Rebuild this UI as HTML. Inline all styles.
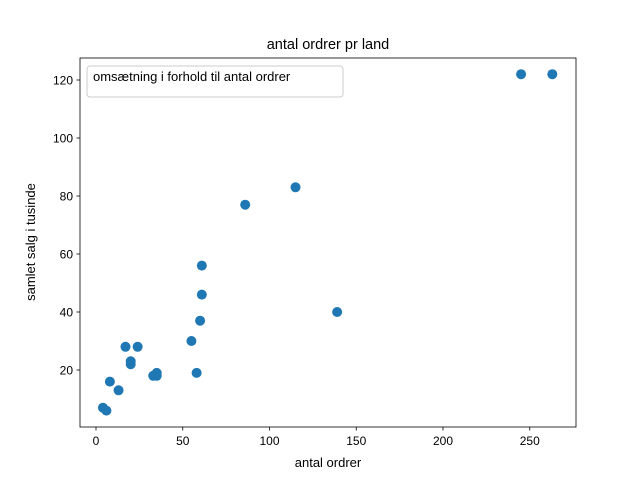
<!DOCTYPE html>
<html><head><meta charset="utf-8"><style>
body{margin:0;background:#fff;}
svg text{font-family:"Liberation Sans","DejaVu Sans",sans-serif;}
</style></head><body>
<svg id="chart" width="640" height="480" xmlns="http://www.w3.org/2000/svg">
<rect width="640" height="480" fill="#fff"/>
<text x="328" y="49" font-size="14.5" text-anchor="middle">antal ordrer pr land</text>
<rect x="80" y="58" width="496" height="369" fill="none" stroke="#000" stroke-width="0.8"/>
<g id="xticks"></g><g id="yticks"></g><g id="points"></g>
<text x="328" y="467" font-size="13" text-anchor="middle">antal ordrer</text>
<text transform="translate(35,242) rotate(-90)" font-size="13" text-anchor="middle">samlet salg i tusinde</text>
<g>
<rect x="87" y="66" width="256" height="31" rx="3" fill="#fff" stroke="#ccc"/>
<text x="93" y="81" font-size="13">omsætning i forhold til antal ordrer</text>
</g>
</svg>
<script>
const xTicks=[0,50,100,150,200,250];
const yTicks=[20,40,60,80,100,120];
const ordersX=[245,263,115,86,61,61,60,139,55,58,35,33,35,17,24,20,20,8,13,4,6];
const salesY=[122,122,83,77,56,46,37,40,30,19,19,18,18,28,28,23,22,16,13,7,6];
const NS="http://www.w3.org/2000/svg";
const sx=v=>96+v*1.735, sy=v=>428-v*2.9;
function mk(tag,attrs,parent){const e=document.createElementNS(NS,tag);for(const k in attrs)e.setAttribute(k,attrs[k]);document.getElementById(parent).appendChild(e);return e;}
xTicks.forEach(t=>{
 const l=mk('line',{x1:sx(t),x2:sx(t),y1:427,y2:430.5,stroke:'#000','stroke-width':0.8},'xticks');
 
 
 const tx=mk('text',{x:sx(t),y:445,'font-size':12,'text-anchor':'middle'},'xticks');tx.textContent=t;
 
 
});
yTicks.forEach(t=>{
 const l=mk('line',{x1:76.5,x2:80,y1:sy(t),y2:sy(t),stroke:'#000','stroke-width':0.8},'yticks');
 
 
 const tx=mk('text',{x:73,y:sy(t)+4.5,'font-size':12,'text-anchor':'end'},'yticks');tx.textContent=t;
 
 
});
ordersX.forEach((x,i)=>{
 const c=mk('circle',{cx:sx(x),cy:sy(salesY[i]),r:5,fill:'#1f77b4'},'points');
 
 
});
</script>
</body></html>
